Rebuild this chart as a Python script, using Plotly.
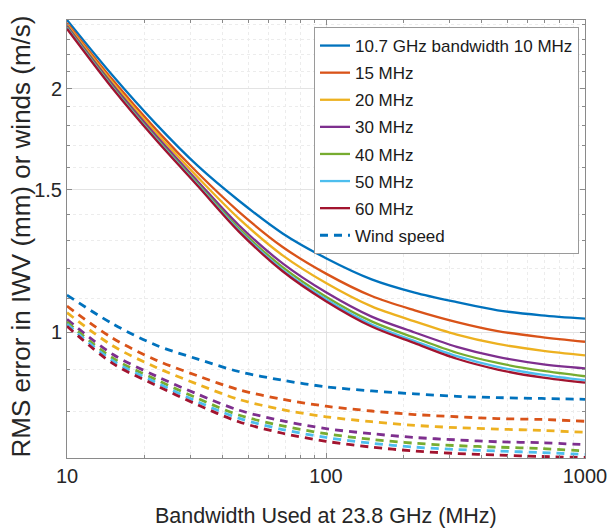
import plotly.graph_objects as go

# Bandwidth used at 23.8 GHz (MHz)
bandwidth = [10, 15, 22, 32, 46, 68, 100, 150, 220, 320, 460, 680, 1000]

# RMS error in IWV (mm), solid lines, one per 10.7 GHz bandwidth
iwv_10 = [2.43, 2.075, 1.81, 1.605, 1.455, 1.325, 1.235, 1.163, 1.12, 1.09, 1.065, 1.05, 1.04]
iwv_15 = [2.41, 2.05, 1.782, 1.573, 1.41, 1.275, 1.182, 1.109, 1.065, 1.03, 1.004, 0.987, 0.974]
iwv_20 = [2.40, 2.035, 1.766, 1.554, 1.383, 1.245, 1.151, 1.077, 1.032, 0.994, 0.968, 0.95, 0.937]
iwv_30 = [2.39, 2.022, 1.751, 1.536, 1.357, 1.217, 1.121, 1.046, 1.0, 0.96, 0.933, 0.914, 0.903]
iwv_40 = [2.38, 2.011, 1.74, 1.526, 1.345, 1.204, 1.107, 1.032, 0.985, 0.944, 0.917, 0.897, 0.883]
iwv_50 = [2.375, 2.005, 1.735, 1.52, 1.338, 1.195, 1.099, 1.023, 0.976, 0.935, 0.907, 0.887, 0.873]
iwv_60 = [2.37, 2.00, 1.73, 1.516, 1.333, 1.19, 1.093, 1.017, 0.97, 0.928, 0.90, 0.88, 0.867]

# RMS error in winds (m/s), dashed lines
wind_10 = [1.112, 1.025, 0.965, 0.927, 0.895, 0.873, 0.857, 0.847, 0.84, 0.834, 0.831, 0.829, 0.827]
wind_15 = [1.078, 0.984, 0.925, 0.884, 0.850, 0.827, 0.811, 0.80, 0.792, 0.787, 0.783, 0.781, 0.777]
wind_20 = [1.058, 0.963, 0.906, 0.863, 0.827, 0.803, 0.787, 0.776, 0.768, 0.763, 0.76, 0.757, 0.753]
wind_30 = [1.038, 0.940, 0.884, 0.839, 0.802, 0.778, 0.761, 0.75, 0.742, 0.737, 0.733, 0.731, 0.727]
wind_40 = [1.030, 0.930, 0.875, 0.829, 0.791, 0.767, 0.750, 0.738, 0.730, 0.725, 0.722, 0.719, 0.714]
wind_50 = [1.024, 0.923, 0.868, 0.821, 0.784, 0.759, 0.742, 0.730, 0.722, 0.717, 0.714, 0.711, 0.707]
wind_60 = [1.018, 0.916, 0.861, 0.814, 0.776, 0.751, 0.734, 0.722, 0.714, 0.709, 0.706, 0.703, 0.701]

legend_names = ["10.7 GHz bandwidth 10 MHz", "15 MHz", "20 MHz", "30 MHz",
                "40 MHz", "50 MHz", "60 MHz"]
colors = ["#0072BD", "#D95319", "#EDB120", "#7E2F8E", "#77AC30", "#4DBEEE", "#A2142F"]

x_ticks = [10, 100, 1000]
x_ticklabels = ["10", "100", "1000"]
y_ticks = [1, 1.5, 2]
y_ticklabels = ["1", "1.5", "2"]
x_minor = [20, 30, 40, 50, 60, 70, 80, 90, 200, 300, 400, 500, 600, 700, 800, 900]
y_minor = [0.7, 0.8, 0.9, 1.1, 1.2, 1.3, 1.4, 1.6, 1.7, 1.8, 1.9, 2.1, 2.2, 2.3, 2.4]

iwv_series = [iwv_10, iwv_15, iwv_20, iwv_30, iwv_40, iwv_50, iwv_60]
wind_series = [wind_10, wind_15, wind_20, wind_30, wind_40, wind_50, wind_60]

fig = go.Figure()
for k, (name, col, ys) in enumerate(zip(legend_names, colors, iwv_series)):
    fig.add_trace(go.Scatter(x=bandwidth, y=ys, mode="lines", name=name,
                             legendgroup=f"g{k}",
                             line=dict(color=col, width=2.3, shape="spline", smoothing=0.9)))
for i, (col, ys) in enumerate(zip(colors, wind_series)):
    fig.add_trace(go.Scatter(x=bandwidth, y=ys, mode="lines", name="Wind speed",
                             showlegend=(i == 0), legendgroup="wind" if i == 0 else f"w{i}",
                             line=dict(color=col, width=2.8, dash="8px,6px",
                                       shape="spline", smoothing=0.9)))

regular = "Liberation Sans, Arial, sans-serif"
grid_major = "#e3e3e3"
grid_minor = "#ececec"
axis_col = "#8a8a8a"

common_axis = dict(ticks="inside", ticklen=5, tickcolor=axis_col,
                   showline=True, linecolor=axis_col, linewidth=1, mirror="ticks",
                   showgrid=True, gridcolor=grid_major, gridwidth=1,
                   zeroline=False, automargin=False, ticklabeloverflow="allow",
                   tickfont=dict(family=regular, size=20, color="#262626"))

fig.update_layout(
    width=608, height=531,
    margin=dict(l=67, r=23, t=20, b=73),
    paper_bgcolor="white", plot_bgcolor="white",
    font=dict(family=regular, size=20, color="#262626"),
    showlegend=True,
    legend=dict(x=0.9884, y=0.984, xanchor="right", yanchor="top",
                bgcolor="white", bordercolor="#9a9a9a", borderwidth=1,
                font=dict(family=regular, size=17, color="#1a1a1a"), itemwidth=30,
                traceorder="grouped", tracegroupgap=2),
    xaxis=dict(type="log", range=[1, 3], tickvals=x_ticks, ticktext=x_ticklabels,
               minor=dict(tickvals=x_minor, ticks="inside", ticklen=3,
                          tickcolor=axis_col, showgrid=True,
                          gridcolor=grid_minor, griddash="dot"),
               **common_axis),
    yaxis=dict(type="log", range=[-0.154902, 0.3856], tickvals=y_ticks, ticktext=y_ticklabels,
               minor=dict(tickvals=y_minor, ticks="inside", ticklen=3,
                          tickcolor=axis_col, showgrid=True,
                          gridcolor=grid_minor, griddash="dot"),
               **common_axis),
    annotations=[
        dict(text="Bandwidth Used at 23.8 GHz (MHz)", xref="paper", yref="paper",
             x=0.5, y=-0.1324, xanchor="center", yanchor="middle", showarrow=False,
             font=dict(family=regular, size=21.5, color="#262626")),
        dict(text="RMS error in IWV (mm) or winds (m/s)", xref="paper", yref="paper",
             x=-0.0907, y=0.5057, xanchor="center", yanchor="middle", showarrow=False,
             textangle=-90, font=dict(family=regular, size=26, color="#262626")),
    ],
)

fig.write_html("out.html", config={"displayModeBar": False},
               post_script="document.body.style.margin='0';")
